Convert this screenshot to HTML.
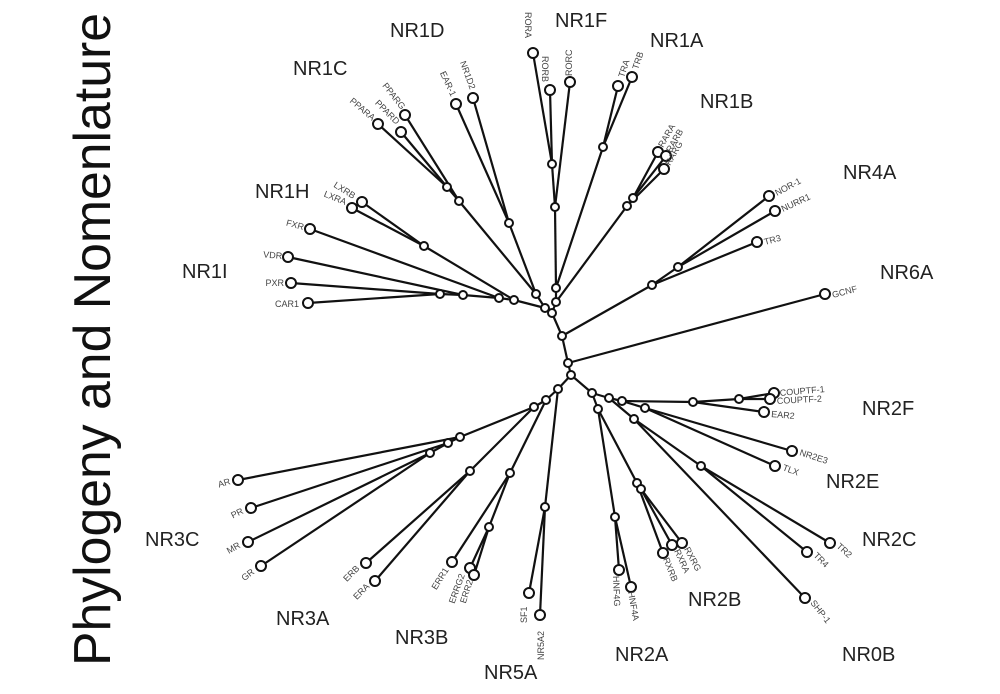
<!DOCTYPE html>
<html><head><meta charset="utf-8"><style>
html,body{margin:0;padding:0;background:#fff;}
svg{display:block;}
.e{stroke:#111;stroke-width:2.2;fill:none;}
.n{stroke:#111;stroke-width:2;fill:#fff;}
.s{font-family:"Liberation Sans",sans-serif;font-size:9px;fill:#444;}
.g{font-family:"Liberation Sans",sans-serif;font-size:20px;fill:#222;}
</style></head><body>
<svg width="1000" height="694" viewBox="0 0 1000 694" xmlns="http://www.w3.org/2000/svg">
<text x="0" y="0" transform="translate(110,666) rotate(-90)" font-family="Liberation Sans, sans-serif" font-size="52" fill="#111" textLength="653" lengthAdjust="spacingAndGlyphs">Phylogeny and Nomenlature</text>
<g class="e">
<!-- core -->
<line x1="562" y1="336" x2="568" y2="363"/><line x1="568" y1="363" x2="571" y2="375"/>
<line x1="562" y1="336" x2="652" y2="285"/><line x1="652" y1="285" x2="678" y2="267"/>
<line x1="678" y1="267" x2="769" y2="196"/><line x1="678" y1="267" x2="775" y2="211"/><line x1="652" y1="285" x2="757" y2="242"/>
<line x1="568" y1="363" x2="825" y2="294"/>
<line x1="562" y1="336" x2="552" y2="313"/><line x1="552" y1="313" x2="545" y2="308"/><line x1="552" y1="313" x2="556" y2="302"/>
<line x1="556" y1="302" x2="556" y2="288"/><line x1="556" y1="288" x2="555" y2="207"/><line x1="555" y1="207" x2="552" y2="164"/>
<line x1="552" y1="164" x2="533" y2="53"/><line x1="552" y1="164" x2="550" y2="90"/><line x1="555" y1="207" x2="570" y2="82"/>
<line x1="556" y1="288" x2="603" y2="147"/><line x1="603" y1="147" x2="618" y2="86"/><line x1="603" y1="147" x2="632" y2="77"/>
<line x1="556" y1="302" x2="627" y2="206"/><line x1="627" y1="206" x2="633" y2="198"/>
<line x1="633" y1="198" x2="658" y2="152"/><line x1="633" y1="198" x2="666" y2="156"/><line x1="627" y1="206" x2="664" y2="169"/>
<line x1="545" y1="308" x2="536" y2="294"/><line x1="536" y1="294" x2="509" y2="223"/>
<line x1="509" y1="223" x2="456" y2="104"/><line x1="509" y1="223" x2="473" y2="98"/>
<line x1="536" y1="294" x2="459" y2="201"/><line x1="459" y1="201" x2="447" y2="187"/>
<line x1="447" y1="187" x2="378" y2="124"/><line x1="447" y1="187" x2="401" y2="132"/><line x1="459" y1="201" x2="405" y2="115"/>
<line x1="545" y1="308" x2="514" y2="300"/><line x1="514" y1="300" x2="424" y2="246"/>
<line x1="424" y1="246" x2="362" y2="202"/><line x1="424" y1="246" x2="352" y2="208"/>
<line x1="514" y1="300" x2="499" y2="298"/><line x1="499" y1="298" x2="310" y2="229"/>
<line x1="499" y1="298" x2="463" y2="295"/><line x1="463" y1="295" x2="288" y2="257"/>
<line x1="463" y1="295" x2="440" y2="294"/><line x1="440" y1="294" x2="291" y2="283"/><line x1="440" y1="294" x2="308" y2="303"/>
<!-- bottom left -->
<line x1="571" y1="375" x2="558" y2="389"/><line x1="558" y1="389" x2="546" y2="400"/><line x1="546" y1="400" x2="534" y2="407"/>
<line x1="534" y1="407" x2="460" y2="437"/><line x1="460" y1="437" x2="238" y2="480"/>
<line x1="460" y1="437" x2="448" y2="443"/><line x1="448" y1="443" x2="251" y2="508"/>
<line x1="448" y1="443" x2="430" y2="453"/><line x1="430" y1="453" x2="248" y2="542"/><line x1="430" y1="453" x2="261" y2="566"/>
<line x1="534" y1="407" x2="470" y2="471"/><line x1="470" y1="471" x2="366" y2="563"/><line x1="470" y1="471" x2="375" y2="581"/>
<line x1="546" y1="400" x2="510" y2="473"/><line x1="510" y1="473" x2="452" y2="562"/>
<line x1="510" y1="473" x2="489" y2="527"/><line x1="489" y1="527" x2="470" y2="568"/><line x1="489" y1="527" x2="474" y2="575"/>
<line x1="558" y1="389" x2="545" y2="507"/><line x1="545" y1="507" x2="529" y2="593"/><line x1="545" y1="507" x2="540" y2="615"/>
<!-- bottom right -->
<line x1="571" y1="375" x2="592" y2="393"/><line x1="592" y1="393" x2="609" y2="398"/><line x1="609" y1="398" x2="622" y2="401"/>
<line x1="622" y1="401" x2="693" y2="402"/><line x1="693" y1="402" x2="739" y2="399"/>
<line x1="739" y1="399" x2="774" y2="393"/><line x1="739" y1="399" x2="770" y2="399"/><line x1="693" y1="402" x2="764" y2="412"/>
<line x1="622" y1="401" x2="645" y2="408"/><line x1="645" y1="408" x2="792" y2="451"/><line x1="645" y1="408" x2="775" y2="466"/>
<line x1="609" y1="398" x2="634" y2="419"/><line x1="634" y1="419" x2="701" y2="466"/>
<line x1="701" y1="466" x2="830" y2="543"/><line x1="701" y1="466" x2="807" y2="552"/><line x1="634" y1="419" x2="805" y2="598"/>
<line x1="592" y1="393" x2="598" y2="409"/><line x1="598" y1="409" x2="637" y2="483"/><line x1="637" y1="483" x2="641" y2="489"/>
<line x1="641" y1="489" x2="682" y2="543"/><line x1="641" y1="489" x2="672" y2="545"/><line x1="637" y1="483" x2="663" y2="553"/>
<line x1="598" y1="409" x2="615" y2="517"/><line x1="615" y1="517" x2="619" y2="570"/><line x1="615" y1="517" x2="631" y2="587"/>
</g>
<g class="n">
<circle cx="562" cy="336" r="4"/><circle cx="568" cy="363" r="4"/><circle cx="571" cy="375" r="4"/>
<circle cx="652" cy="285" r="4"/><circle cx="678" cy="267" r="4"/>
<circle cx="769" cy="196" r="5"/><circle cx="775" cy="211" r="5"/><circle cx="757" cy="242" r="5"/><circle cx="825" cy="294" r="5"/>
<circle cx="552" cy="313" r="4"/><circle cx="545" cy="308" r="4"/><circle cx="556" cy="302" r="4"/><circle cx="556" cy="288" r="4"/>
<circle cx="555" cy="207" r="4"/><circle cx="552" cy="164" r="4"/>
<circle cx="533" cy="53" r="5"/><circle cx="550" cy="90" r="5"/><circle cx="570" cy="82" r="5"/>
<circle cx="603" cy="147" r="4"/><circle cx="618" cy="86" r="5"/><circle cx="632" cy="77" r="5"/>
<circle cx="627" cy="206" r="4"/><circle cx="633" cy="198" r="4"/>
<circle cx="658" cy="152" r="5"/><circle cx="666" cy="156" r="5"/><circle cx="664" cy="169" r="5"/>
<circle cx="536" cy="294" r="4"/><circle cx="509" cy="223" r="4"/><circle cx="456" cy="104" r="5"/><circle cx="473" cy="98" r="5"/>
<circle cx="459" cy="201" r="4"/><circle cx="447" cy="187" r="4"/>
<circle cx="378" cy="124" r="5"/><circle cx="401" cy="132" r="5"/><circle cx="405" cy="115" r="5"/>
<circle cx="514" cy="300" r="4"/><circle cx="424" cy="246" r="4"/><circle cx="362" cy="202" r="5"/><circle cx="352" cy="208" r="5"/>
<circle cx="499" cy="298" r="4"/><circle cx="310" cy="229" r="5"/><circle cx="463" cy="295" r="4"/><circle cx="288" cy="257" r="5"/>
<circle cx="440" cy="294" r="4"/><circle cx="291" cy="283" r="5"/><circle cx="308" cy="303" r="5"/>
<circle cx="558" cy="389" r="4"/><circle cx="546" cy="400" r="4"/><circle cx="534" cy="407" r="4"/>
<circle cx="460" cy="437" r="4"/><circle cx="448" cy="443" r="4"/><circle cx="430" cy="453" r="4"/>
<circle cx="238" cy="480" r="5"/><circle cx="251" cy="508" r="5"/><circle cx="248" cy="542" r="5"/><circle cx="261" cy="566" r="5"/>
<circle cx="470" cy="471" r="4"/><circle cx="366" cy="563" r="5"/><circle cx="375" cy="581" r="5"/>
<circle cx="510" cy="473" r="4"/><circle cx="452" cy="562" r="5"/><circle cx="489" cy="527" r="4"/><circle cx="470" cy="568" r="5"/><circle cx="474" cy="575" r="5"/>
<circle cx="545" cy="507" r="4"/><circle cx="529" cy="593" r="5"/><circle cx="540" cy="615" r="5"/>
<circle cx="592" cy="393" r="4"/><circle cx="609" cy="398" r="4"/><circle cx="622" cy="401" r="4"/>
<circle cx="693" cy="402" r="4"/><circle cx="739" cy="399" r="4"/><circle cx="774" cy="393" r="5"/><circle cx="770" cy="399" r="5"/><circle cx="764" cy="412" r="5"/>
<circle cx="645" cy="408" r="4"/><circle cx="792" cy="451" r="5"/><circle cx="775" cy="466" r="5"/>
<circle cx="634" cy="419" r="4"/><circle cx="701" cy="466" r="4"/><circle cx="830" cy="543" r="5"/><circle cx="807" cy="552" r="5"/><circle cx="805" cy="598" r="5"/>
<circle cx="598" cy="409" r="4"/><circle cx="637" cy="483" r="4"/><circle cx="641" cy="489" r="4"/>
<circle cx="682" cy="543" r="5"/><circle cx="672" cy="545" r="5"/><circle cx="663" cy="553" r="5"/>
<circle cx="615" cy="517" r="4"/><circle cx="619" cy="570" r="5"/><circle cx="631" cy="587" r="5"/>
</g>
<g class="s">
<text transform="translate(525,12) rotate(90)">RORA</text>
<text transform="translate(542,56) rotate(90)">RORB</text>
<text transform="translate(572,76) rotate(-90)">RORC</text>
<text transform="translate(624,78) rotate(-72)">TRA</text>
<text transform="translate(638,70) rotate(-72)">TRB</text>
<text transform="translate(663,148) rotate(-60)">RARA</text>
<text transform="translate(671,153) rotate(-60)">RARB</text>
<text transform="translate(670,166) rotate(-60)">RARG</text>
<text transform="translate(777,196) rotate(-28)">NOR-1</text>
<text transform="translate(783,212) rotate(-25)">NURR1</text>
<text transform="translate(765,245) rotate(-15)">TR3</text>
<text transform="translate(833,298) rotate(-15)">GCNF</text>
<text transform="translate(780,396) rotate(-5)">COUPTF-1</text>
<text transform="translate(777,404) rotate(-3)">COUPTF-2</text>
<text transform="translate(771,417) rotate(5)">EAR2</text>
<text transform="translate(799,455) rotate(18)">NR2E3</text>
<text transform="translate(782,470) rotate(20)">TLX</text>
<text transform="translate(836,547) rotate(42)">TR2</text>
<text transform="translate(813,556) rotate(45)">TR4</text>
<text transform="translate(810,603) rotate(52)">SHP-1</text>
<text transform="translate(684,549) rotate(62)">RXRG</text>
<text transform="translate(674,551) rotate(65)">RXRA</text>
<text transform="translate(663,559) rotate(68)">RXRB</text>
<text transform="translate(628,592) rotate(80)">HNF4A</text>
<text transform="translate(613,576) rotate(88)">HNF4G</text>
<text transform="translate(544,660) rotate(-90)">NR5A2</text>
<text transform="translate(527,623) rotate(-90)">SF1</text>
<text text-anchor="end" transform="translate(449,570) rotate(-58)">ERR1</text>
<text text-anchor="end" transform="translate(465,575) rotate(-70)">ERRG2</text>
<text text-anchor="end" transform="translate(473,581) rotate(-72)">ERR2</text>
<text text-anchor="end" transform="translate(360,569) rotate(-45)">ERB</text>
<text text-anchor="end" transform="translate(370,587) rotate(-45)">ERA</text>
<text text-anchor="end" transform="translate(231,484) rotate(-17)">AR</text>
<text text-anchor="end" transform="translate(244,513) rotate(-27)">PR</text>
<text text-anchor="end" transform="translate(241,547) rotate(-30)">MR</text>
<text text-anchor="end" transform="translate(255,573) rotate(-38)">GR</text>
<text text-anchor="end" transform="translate(299,307)">CAR1</text>
<text text-anchor="end" transform="translate(284,286)">PXR</text>
<text text-anchor="end" transform="translate(282,259) rotate(5)">VDR</text>
<text text-anchor="end" transform="translate(303,230) rotate(15)">FXR</text>
<text text-anchor="end" transform="translate(345,205) rotate(22)">LXRA</text>
<text text-anchor="end" transform="translate(353,199) rotate(32)">LXRB</text>
<text text-anchor="end" transform="translate(372,121) rotate(40)">PPARA</text>
<text text-anchor="end" transform="translate(396,125) rotate(45)">PPARD</text>
<text text-anchor="end" transform="translate(401,110) rotate(52)">PPARG</text>
<text text-anchor="end" transform="translate(451,97) rotate(65)">EAR-1</text>
<text text-anchor="end" transform="translate(470,90) rotate(70)">NR1D2</text>
</g>
<g class="g">
<text x="390" y="37">NR1D</text>
<text x="555" y="27">NR1F</text>
<text x="650" y="47">NR1A</text>
<text x="293" y="75">NR1C</text>
<text x="700" y="108">NR1B</text>
<text x="843" y="179">NR4A</text>
<text x="255" y="198">NR1H</text>
<text x="880" y="279">NR6A</text>
<text x="182" y="278">NR1I</text>
<text x="862" y="415">NR2F</text>
<text x="826" y="488">NR2E</text>
<text x="145" y="546">NR3C</text>
<text x="862" y="546">NR2C</text>
<text x="276" y="625">NR3A</text>
<text x="688" y="606">NR2B</text>
<text x="395" y="644">NR3B</text>
<text x="615" y="661">NR2A</text>
<text x="842" y="661">NR0B</text>
<text x="484" y="679">NR5A</text>
</g>
</svg>
</body></html>
